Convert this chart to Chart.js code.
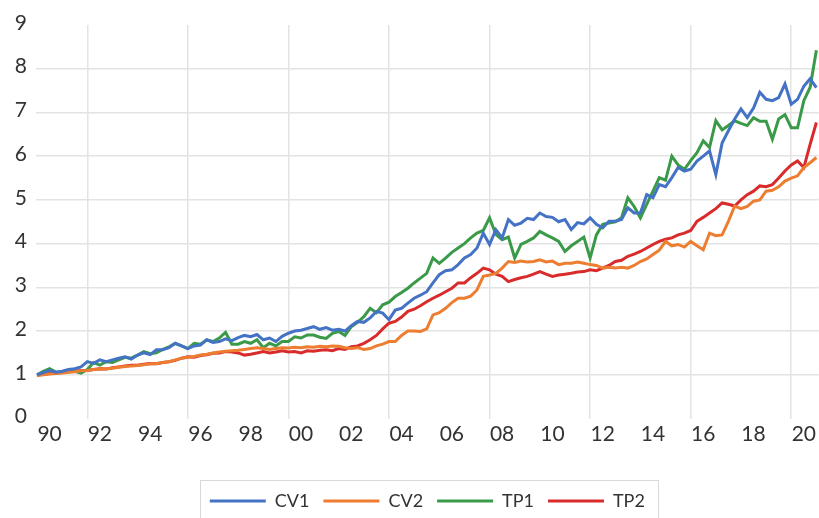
<!DOCTYPE html>
<html>
<head>
<meta charset="utf-8">
<script src="https://cdn.jsdelivr.net/npm/chart.js@4"></script>
<style>
  html, body { margin: 0; padding: 0; background: #fff; }
  #chart { display: block; }
</style>
</head>
<body>
<canvas id="chart" width="819" height="518"></canvas>
<script>
// quarterly values, first point is 1990 Q1
const startYear = 1990
const perYear = 4

const seriesNames = ['CV1', 'CV2', 'TP1', 'TP2']
const seriesColors = ['#4472C4', '#ED7D31', '#3A9A48', '#D92B2B']

const tickLabels = ['90', '92', '94', '96', '98', '00', '02', '04', '06', '08', '10', '12', '14', '16', '18', '20']
const labelYears = [1990, 1992, 1994, 1996, 1998, 2000, 2002, 2004, 2006, 2008, 2010, 2012, 2014, 2016, 2018, 2020]
const gridYears = [1992, 1996, 2000, 2004, 2008, 2012, 2016, 2020]

const cv1 = [
  1.00, 1.05, 1.10, 1.06,
  1.08, 1.12, 1.14, 1.18,
  1.30, 1.26, 1.34, 1.30,
  1.34, 1.38, 1.41, 1.36,
  1.45, 1.50, 1.46, 1.57,
  1.57, 1.62, 1.72, 1.66,
  1.60, 1.66, 1.68, 1.80,
  1.74, 1.76, 1.82, 1.78,
  1.85, 1.90, 1.87, 1.92,
  1.80, 1.84, 1.76, 1.88,
  1.95, 2.00, 2.02, 2.06,
  2.10, 2.04, 2.08, 2.02,
  2.04, 2.00, 2.12, 2.22,
  2.20, 2.30, 2.45, 2.41,
  2.26, 2.48, 2.52, 2.64,
  2.75, 2.82, 2.90, 3.10,
  3.29, 3.38, 3.40, 3.52,
  3.67, 3.75, 3.90, 4.24,
  3.98, 4.32, 4.13, 4.55,
  4.42, 4.47, 4.58, 4.55,
  4.70, 4.62, 4.60, 4.50,
  4.55, 4.32, 4.48, 4.45,
  4.59, 4.44, 4.36, 4.51,
  4.51, 4.55, 4.82, 4.70,
  4.70, 5.12, 5.05, 5.35,
  5.30, 5.51, 5.74, 5.66,
  5.70, 5.89, 6.00, 6.12,
  5.58, 6.30, 6.58, 6.85,
  7.08, 6.88, 7.10, 7.46,
  7.30, 7.27, 7.34, 7.65,
  7.19, 7.30, 7.60, 7.77,
  7.57
]

const cv2 = [
  0.98, 1.00, 1.02, 1.03,
  1.04, 1.06, 1.07, 1.09,
  1.10, 1.12, 1.13, 1.14,
  1.15, 1.17, 1.19, 1.20,
  1.21, 1.23, 1.25, 1.26,
  1.28, 1.30, 1.34, 1.38,
  1.40, 1.42, 1.45, 1.47,
  1.50, 1.52, 1.54, 1.55,
  1.56, 1.58, 1.60, 1.62,
  1.60, 1.58, 1.60, 1.62,
  1.61, 1.63, 1.62, 1.64,
  1.63, 1.65, 1.64, 1.66,
  1.65, 1.62, 1.60, 1.62,
  1.58, 1.60, 1.66, 1.70,
  1.76, 1.76, 1.90, 2.00,
  2.00, 1.99, 2.05, 2.37,
  2.42, 2.52, 2.65, 2.75,
  2.75, 2.80, 2.94, 3.25,
  3.28, 3.32, 3.44, 3.59,
  3.57, 3.60, 3.58, 3.59,
  3.63, 3.58, 3.60, 3.52,
  3.55, 3.55, 3.58, 3.55,
  3.52, 3.50, 3.44, 3.46,
  3.44, 3.46, 3.44, 3.50,
  3.59, 3.65, 3.75, 3.85,
  4.05, 3.95, 3.98, 3.92,
  4.05, 3.95, 3.86, 4.24,
  4.18, 4.20, 4.51, 4.86,
  4.80, 4.85, 4.97, 5.00,
  5.20, 5.22, 5.30, 5.43,
  5.50, 5.55, 5.74, 5.85,
  5.97
]

const tp1 = [
  1.00, 1.08, 1.14, 1.06,
  1.07, 1.10, 1.08, 1.04,
  1.12, 1.28, 1.22, 1.30,
  1.28, 1.34, 1.40, 1.38,
  1.45, 1.53, 1.48, 1.50,
  1.58, 1.64, 1.72, 1.66,
  1.60, 1.72, 1.70, 1.80,
  1.76, 1.84, 1.97, 1.70,
  1.70, 1.76, 1.72, 1.80,
  1.62, 1.72, 1.66, 1.76,
  1.76, 1.87, 1.84, 1.91,
  1.91, 1.86, 1.83, 1.95,
  1.99, 1.90, 2.10, 2.20,
  2.33, 2.52, 2.42, 2.60,
  2.66, 2.79, 2.88, 2.98,
  3.10, 3.21, 3.32, 3.67,
  3.55, 3.67, 3.80, 3.90,
  4.00, 4.13, 4.24, 4.30,
  4.59, 4.21, 4.09, 4.15,
  3.67, 3.98, 4.05, 4.13,
  4.28, 4.20, 4.13, 4.05,
  3.82, 3.95, 4.05, 4.15,
  3.67, 4.20, 4.44, 4.47,
  4.50, 4.59, 5.05, 4.85,
  4.59, 4.90, 5.20, 5.51,
  5.45, 6.00, 5.80, 5.70,
  5.90, 6.08, 6.35, 6.20,
  6.81, 6.60, 6.70, 6.81,
  6.75, 6.70, 6.88, 6.80,
  6.80, 6.39, 6.85, 6.95,
  6.65, 6.65, 7.27, 7.57,
  8.42
]

const tp2 = [
  1.00, 1.01, 1.03, 1.04,
  1.05, 1.07, 1.08, 1.10,
  1.10, 1.12, 1.14, 1.13,
  1.16, 1.18, 1.20, 1.22,
  1.22, 1.24, 1.26, 1.25,
  1.28, 1.30, 1.33, 1.38,
  1.41, 1.40, 1.44, 1.46,
  1.49, 1.50, 1.53, 1.52,
  1.50, 1.45, 1.47, 1.50,
  1.53, 1.50, 1.52, 1.55,
  1.52, 1.53, 1.50, 1.55,
  1.54, 1.56, 1.57, 1.55,
  1.60, 1.58, 1.64, 1.66,
  1.72, 1.80, 1.90, 2.05,
  2.18, 2.22, 2.32, 2.45,
  2.50, 2.58, 2.67, 2.75,
  2.82, 2.90, 2.98, 3.10,
  3.10, 3.22, 3.32, 3.44,
  3.40, 3.30, 3.25, 3.13,
  3.18, 3.22, 3.25, 3.30,
  3.36, 3.30, 3.25, 3.28,
  3.30, 3.32, 3.35, 3.36,
  3.40, 3.38, 3.44, 3.50,
  3.59, 3.62, 3.71, 3.76,
  3.82, 3.90, 3.98, 4.05,
  4.10, 4.13, 4.20, 4.24,
  4.30, 4.51, 4.60, 4.70,
  4.80, 4.93, 4.90, 4.86,
  5.00, 5.12, 5.20, 5.32,
  5.30, 5.35, 5.50, 5.66,
  5.80, 5.89, 5.74, 6.27,
  6.77
]

const allSeries = [cv1, cv2, tp1, tp2]

const toPoints = values => values.map((v, i) => ({ x: startYear + i / perYear, y: v }))

// labels sit half a year after the tick year, grid lines on the year itself
const labelPos = labelYears.map(y => y + 0.5)
const xTicks = labelPos.concat(gridYears).sort((a, b) => a - b)

const legendFrame = {
  id: 'legendFrame',
  afterDraw(chart) {
    const boxes = chart.legend && chart.legend.legendHitBoxes
    if (!boxes || !boxes.length) return
    const first = boxes[0]
    const last = boxes[boxes.length - 1]
    const left = Math.round(first.left - 10) + 0.5
    const right = Math.round(last.left + last.width + 13) + 0.5
    const top = Math.round(first.top + first.height / 2 - 21) + 0.5
    const ctx = chart.ctx
    ctx.save()
    ctx.strokeStyle = '#d9d9d9'
    ctx.lineWidth = 1
    ctx.strokeRect(left, top, right - left, chart.height - top + 2)
    ctx.restore()
  }
}

const axisFont = { family: 'Lato', size: 21 }
const textColor = '#333333'
const gridColor = '#e3e3e3'

new Chart(document.getElementById('chart'), {
  type: 'line',
  data: {
    datasets: seriesNames.map((name, i) => ({
      label: name,
      data: toPoints(allSeries[i]),
      borderColor: seriesColors[i],
      backgroundColor: seriesColors[i],
      borderWidth: 3,
      pointRadius: 0,
      tension: 0
    }))
  },
  options: {
    responsive: false,
    animation: false,
    layout: { padding: { top: 25, right: 0, bottom: 2, left: 0 } },
    plugins: {
      tooltip: { enabled: false },
      legend: {
        position: 'bottom',
        fullSize: false,
        maxHeight: 38,
        labels: {
          boxWidth: 56,
          boxHeight: 3,
          padding: 14,
          color: textColor,
          font: { family: 'Lato', size: 18 },
          generateLabels: chart => Chart.defaults.plugins.legend.labels.generateLabels(chart)
            .map(item => Object.assign(item, { lineWidth: 0 }))
        }
      }
    },
    scales: {
      x: {
        type: 'linear',
        min: 1989.96,
        max: 2021.09,
        border: { display: false },
        afterFit: scale => { scale.height = 59.5 },
        grid: {
          drawTicks: false,
          lineWidth: 1.5,
          color: ctx => (ctx.tick && Number.isInteger(ctx.tick.value)) ? gridColor : 'rgba(0,0,0,0)'
        },
        afterBuildTicks: scale => { scale.ticks = xTicks.map(v => ({ value: v })) },
        ticks: {
          autoSkip: false,
          maxRotation: 0,
          padding: 3,
          color: textColor,
          font: axisFont,
          callback: v => {
            const i = labelPos.indexOf(v)
            return i < 0 ? '' : tickLabels[i]
          }
        }
      },
      y: {
        min: 0,
        max: 9,
        border: { display: false },
        afterFit: scale => { scale.width = 36 },
        grid: {
          drawTicks: false,
          lineWidth: 1.5,
          color: ctx => (ctx.tick && ctx.tick.value > 0 && ctx.tick.value < 9) ? gridColor : 'rgba(0,0,0,0)'
        },
        ticks: {
          stepSize: 1,
          padding: 9,
          labelOffset: -2,
          color: textColor,
          font: axisFont
        }
      }
    }
  },
  plugins: [legendFrame]
})
</script>
</body>
</html>
